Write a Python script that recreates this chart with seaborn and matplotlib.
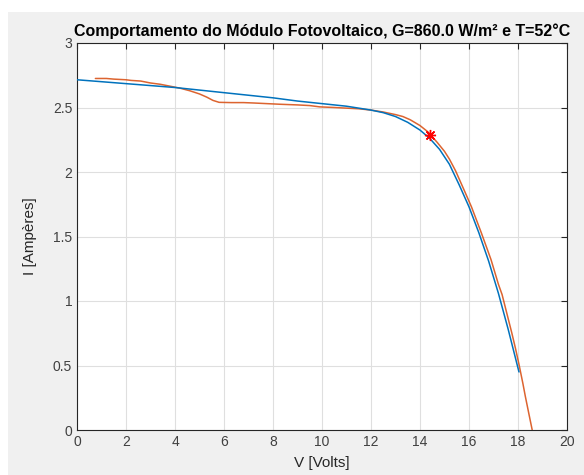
import matplotlib
matplotlib.use("Agg")
import matplotlib.pyplot as plt
import seaborn as sns
import pandas as pd
from matplotlib.patches import Rectangle

# Model curve (blue)
model_v = [0.0, 1, 2, 3, 4, 5, 6, 7, 8, 9, 10, 10.5, 11, 11.5, 12, 12.5, 13, 13.5,
           14, 14.4, 14.8, 15.2, 15.6, 16.0, 16.4, 16.8, 17.2, 17.6, 18.04]
model_i = [2.715, 2.70, 2.685, 2.67, 2.655, 2.635, 2.615, 2.595, 2.575, 2.55, 2.53,
           2.52, 2.51, 2.495, 2.48, 2.46, 2.43, 2.385, 2.325, 2.26, 2.175, 2.06,
           1.90, 1.73, 1.53, 1.31, 1.06, 0.78, 0.45]

# Measured curve (orange)
meas_v = [0.75, 1.2, 1.5, 2.0, 2.2, 2.6, 3.0, 3.4, 3.8, 4.2, 4.6, 5.0, 5.3, 5.55,
          5.8, 6.3, 6.8, 7.2, 7.75, 8.3, 9.0, 9.5, 9.9, 10.5, 11.0, 11.5, 12.0,
          12.5, 13.0, 13.3, 13.6, 14.0, 14.33, 14.7, 15.0, 15.2, 15.45, 15.8, 16.1,
          16.5, 16.9, 17.2, 17.35, 17.55, 17.75, 17.9, 18.05, 18.2, 18.3, 18.45, 18.58]
meas_i = [2.725, 2.725, 2.72, 2.715, 2.71, 2.705, 2.69, 2.68, 2.665, 2.65, 2.63,
          2.605, 2.58, 2.555, 2.54, 2.538, 2.538, 2.535, 2.53, 2.525, 2.52, 2.515,
          2.505, 2.50, 2.495, 2.49, 2.48, 2.465, 2.445, 2.43, 2.405, 2.36, 2.31,
          2.23, 2.16, 2.10, 2.01, 1.86, 1.73, 1.53, 1.32, 1.13, 1.05, 0.90, 0.75,
          0.63, 0.50, 0.36, 0.26, 0.12, 0.0]

# Maximum power point marker
mpp_v = [14.4]
mpp_i = [2.29]

x_ticks = [0, 2, 4, 6, 8, 10, 12, 14, 16, 18, 20]
y_ticks = [0, 0.5, 1, 1.5, 2, 2.5, 3]

sns.set_style("white")
plt.rcParams['font.family'] = ['Liberation Sans', 'DejaVu Sans']

fig = plt.figure(figsize=(5.84, 4.75), dpi=100)
fig.patch.set_facecolor("white")
fig.patches.append(Rectangle((8 / 584, 0), 1, 1 - 12 / 475, transform=fig.transFigure,
                             facecolor="#f0f0f0", edgecolor="none", zorder=-10))
ax = fig.add_axes([77 / 584, 1 - 430 / 475, (567 - 77) / 584, (430 - 43) / 475])
ax.set_facecolor("white")

df_model = pd.DataFrame({"V": model_v, "I": model_i})
df_meas = pd.DataFrame({"V": meas_v, "I": meas_i})
df_mpp = pd.DataFrame({"V": mpp_v, "I": mpp_i})

sns.lineplot(data=df_meas, x="V", y="I", sort=False, color="#D95319", lw=1.1,
             ax=ax, zorder=3, alpha=0.9)
sns.lineplot(data=df_model, x="V", y="I", sort=False, color="#0072BD", lw=1.1,
             ax=ax, zorder=4)
ax.plot(df_mpp["V"], df_mpp["I"], linestyle="none", marker=(8, 2, 0),
        markersize=8, markeredgewidth=1.0, color="red", zorder=5)

ax.set_xlim(0, 20)
ax.set_ylim(0, 3)
ax.set_xticks(x_ticks)
ax.set_xticklabels([str(t) for t in x_ticks])
ax.set_yticks(y_ticks)
ax.set_yticklabels(["0", "0.5", "1", "1.5", "2", "2.5", "3"])
ax.grid(True, color="#dfdfdf", lw=0.8)
ax.set_axisbelow(True)
for s in ax.spines.values():
    s.set_visible(True)
    s.set_color("#262626")
    s.set_linewidth(0.8)
ax.tick_params(direction="in", length=4, width=0.8, colors="#262626",
               labelsize=10, top=True, right=True, labeltop=False, labelright=False)
for lab in ax.get_xticklabels() + ax.get_yticklabels():
    lab.set_color("#404040")

ax.set_xlabel("V [Volts]", fontsize=11, color="#262626", labelpad=5)
ax.set_ylabel("I [Ampères]", fontsize=11, color="#262626", labelpad=11)
ax.set_title("Comportamento do Módulo Fotovoltaico, G=860.0 W/m² e T=52°C",
             fontsize=11.5, fontweight="bold", color="black", pad=5)

fig.savefig("out.png", dpi=100, facecolor=fig.get_facecolor())
